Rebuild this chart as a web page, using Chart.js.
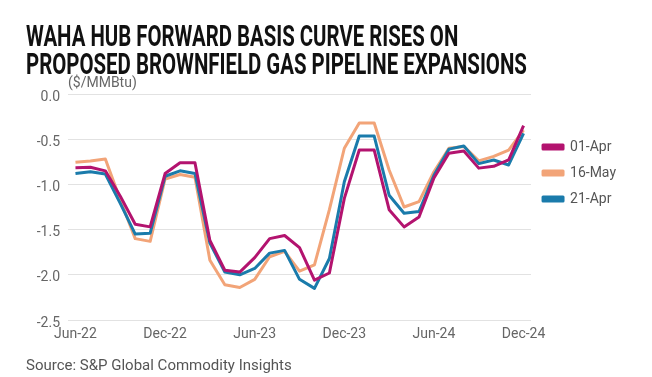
<!DOCTYPE html>
<html>
<head>
<meta charset="utf-8">
<script src="https://cdn.jsdelivr.net/npm/chart.js@4"></script>
<style>
  html, body { margin: 0; padding: 0; background: #fff; }
  #wrap { position: relative; width: 652px; height: 377px; overflow: hidden; }
  #chart { position: absolute; left: 0; top: 0; }
  .title { position: absolute; left: 26px; font-family: "Liberation Sans Narrow", "Roboto", sans-serif;
           font-weight: bold; font-size: 29px; color: #111; white-space: nowrap; transform-origin: 0 0; line-height: 1; }
  #unit { position: absolute; left: 68px; top: 74px; font-family: "Roboto", sans-serif; font-size: 14px; color: #666; }
  #source { position: absolute; left: 26px; top: 356px; font-family: "Roboto", sans-serif; font-size: 15px; color: #555; }
</style>
</head>
<body>
<div id="wrap">
  <canvas id="chart" width="652" height="377"></canvas>
  <div class="title" id="t1" style="top:22px">WAHA HUB FORWARD BASIS CURVE RISES ON</div>
  <div class="title" id="t2" style="top:50px">PROPOSED BROWNFIELD GAS PIPELINE EXPANSIONS</div>
  <div id="unit">($/MMBtu)</div>
  <div id="source">Source: S&amp;P Global Commodity Insights</div>
</div>
<script>
const months = ['Jun-22', 'Jul-22', 'Aug-22', 'Sep-22', 'Oct-22', 'Nov-22', 'Dec-22',
    'Jan-23', 'Feb-23', 'Mar-23', 'Apr-23', 'May-23', 'Jun-23',
    'Jul-23', 'Aug-23', 'Sep-23', 'Oct-23', 'Nov-23', 'Dec-23',
    'Jan-24', 'Feb-24', 'Mar-24', 'Apr-24', 'May-24', 'Jun-24',
    'Jul-24', 'Aug-24', 'Sep-24', 'Oct-24', 'Nov-24', 'Dec-24'];
const tickLabels = ['Jun-22', 'Dec-22', 'Jun-23', 'Dec-23', 'Jun-24', 'Dec-24'];

const apr01 = [-0.815, -0.81, -0.85, -1.13, -1.44, -1.47, -0.88, -0.76, -0.76, -1.62, -1.95,
    -1.97, -1.81, -1.60, -1.565, -1.70, -2.06, -1.98, -1.155, -0.62, -0.62,
    -1.28, -1.47, -1.36, -0.93, -0.655, -0.63, -0.82, -0.80, -0.73, -0.35];
const may16 = [-0.755, -0.74, -0.72, -1.17, -1.60, -1.63, -0.94, -0.89, -0.92, -1.84, -2.11,
    -2.14, -2.05, -1.80, -1.74, -1.96, -1.89, -1.28, -0.60, -0.32, -0.32,
    -0.84, -1.25, -1.19, -0.86, -0.60, -0.58, -0.74, -0.69, -0.62, -0.40];
const apr21 = [-0.88, -0.86, -0.885, -1.21, -1.55, -1.54, -0.91, -0.85, -0.88, -1.65, -1.97,
    -2.00, -1.93, -1.76, -1.73, -2.05, -2.15, -1.82, -0.97, -0.465, -0.465,
    -1.12, -1.32, -1.30, -0.90, -0.61, -0.575, -0.77, -0.73, -0.785, -0.435];

// squeeze the title lines to the width of the original condensed font
[['t1', 432], ['t2', 501]].forEach(([id, w]) => {
    const el = document.getElementById(id);
    el.style.transform = 'scaleX(' + (w / el.offsetWidth) + ')';
});

const axisFont = { family: 'Roboto', size: 14 };

const line = (label, data, color, order) => ({
    label: label,
    data: data,
    borderColor: color,
    backgroundColor: color,
    borderWidth: 3,
    pointRadius: 0,
    tension: 0,
    borderJoinStyle: 'round',
    order: order
});

new Chart(document.getElementById('chart'), {
    type: 'line',
    data: {
        labels: months,
        datasets: [
            line('01-Apr', apr01, '#b3136f', 0),
            line('16-May', may16, '#f2a478', 2),
            line('21-Apr', apr21, '#1a7bab', 1)
        ]
    },
    options: {
        responsive: false,
        animation: false,
        layout: { padding: { top: 94, right: 26, bottom: 27, left: 0 } },
        plugins: {
            tooltip: { enabled: false },
            legend: {
                position: 'right',
                align: 'start',
                title: { display: true, text: '', font: { size: 10 }, padding: { top: 22, bottom: 0 } },
                labels: {
                    boxWidth: 20,
                    boxHeight: 4,
                    padding: 12,
                    color: '#555',
                    font: { family: 'Roboto', size: 14 },
                    sort: (a, b) => a.datasetIndex - b.datasetIndex
                }
            }
        },
        scales: {
            x: {
                offset: true,
                grid: { display: false, drawTicks: false },
                border: { display: false },
                afterFit: (scale) => { scale.height = 30; },
                ticks: {
                    autoSkip: false,
                    maxRotation: 0,
                    padding: 6,
                    color: '#666',
                    font: axisFont,
                    callback: (v, i) => tickLabels.includes(months[i]) ? months[i] : ''
                }
            },
            y: {
                min: -2.5,
                max: 0,
                grid: { color: '#e2e2e2', drawTicks: false },
                border: { display: false },
                afterFit: (scale) => { scale.width = 68; },
                ticks: {
                    stepSize: 0.5,
                    padding: 8,
                    labelOffset: 3,
                    color: '#666',
                    font: axisFont,
                    callback: (v) => v.toFixed(1)
                }
            }
        }
    }
});
</script>
</body>
</html>
